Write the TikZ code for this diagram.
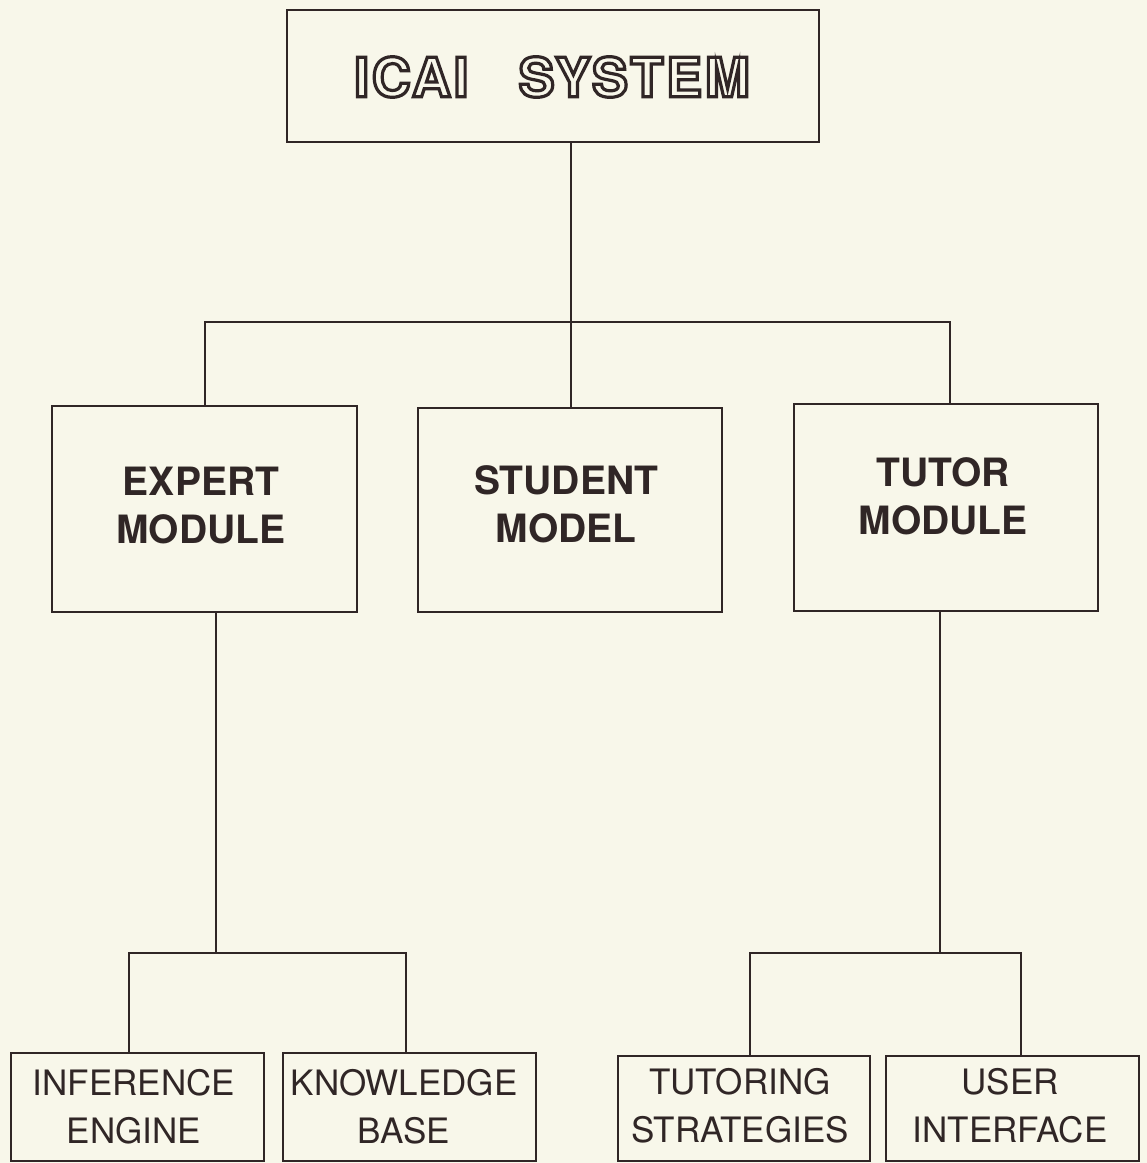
\documentclass[tikz,border=0pt]{standalone}
\usepackage{fontspec}
\setmainfont{TeX Gyre Heros}
\definecolor{paper}{RGB}{248,247,234}
\definecolor{ink}{RGB}{48,38,38}
\newcommand{\hollowtext}[1]{\special{pdf:code q 1 Tr 3.2 w}#1\special{pdf:code Q}}
\tikzset{
  box/.style={draw=ink, line width=2.2pt, rectangle, inner sep=0pt},
  link/.style={draw=ink, line width=2pt},
  bigtxt/.style={text=ink, align=center, font=\bfseries\fontsize{39}{48}\selectfont},
  smalltxt/.style={text=ink, align=center, font=\fontsize{35}{48}\selectfont},
}
\begin{document}
\begin{tikzpicture}[x=1pt,y=-1pt]
\fill[paper] (0,0) rectangle (1147,1163);
\useasboundingbox (0,0) rectangle (1147,1163);
% boxes
\node[box, minimum width=532pt, minimum height=132pt] (title) at (553,76) {};
\node[box, minimum width=305pt, minimum height=206pt] (expert) at (204.5,509) {};
\node[box, minimum width=304pt, minimum height=204pt] (student) at (570,510) {};
\node[box, minimum width=304pt, minimum height=207pt] (tutor) at (946,507.5) {};
\node[box, minimum width=253pt, minimum height=108pt] (inf) at (137.5,1107) {};
\node[box, minimum width=253pt, minimum height=108pt] (know) at (409.5,1107) {};
\node[box, minimum width=252pt, minimum height=105pt] (tut) at (744,1108.5) {};
\node[box, minimum width=253pt, minimum height=105pt] (user) at (1012.5,1108.5) {};
% labels
\node[inner sep=0pt, text=ink] (titletxt) at (552,77) {\fontsize{54}{60}\selectfont\bfseries\addfontfeatures{LetterSpace=5}\hollowtext{ICAI\hspace{50pt}SYSTEM}};
\node[bigtxt] (expertTxt) at (201,506) {EXPERT\\MODULE};
\node[bigtxt] (studentTxt) at (566,504) {STUDENT\\MODEL};
\node[bigtxt] (tutorTxt) at (943,496) {TUTOR\\MODULE};
\node[smalltxt] (infTxt) at (134,1107) {INFERENCE\\ENGINE};
\node[smalltxt] (knowTxt) at (404,1107) {KNOWLEDGE\\BASE};
\node[smalltxt] (tutTxt) at (740,1106) {TUTORING\\STRATEGIES};
\node[smalltxt] (userTxt) at (1010,1106) {USER\\INTERFACE};
% connector coordinates
\coordinate (bL) at (205,322);
\coordinate (bM) at (571,322);
\coordinate (bR) at (950,322);
\coordinate (eJ) at (216,953);
\coordinate (eL) at (129,953);
\coordinate (eR) at (406,953);
\coordinate (tJ) at (940,953);
\coordinate (tL) at (750,953);
\coordinate (tR) at (1021,953);
% connectors
\draw[link] (title.south -| bM) -- (bM |- student.north);
\draw[link] (bL |- expert.north) -- (bL) -- (bR) -- (bR |- tutor.north);
\draw[link] (expert.south -| eJ) -- (eJ);
\draw[link] (eL |- inf.north) -- (eL) -- (eR) -- (eR |- know.north);
\draw[link] (tutor.south -| tJ) -- (tJ);
\draw[link] (tL |- tut.north) -- (tL) -- (tR) -- (tR |- user.north);
\end{tikzpicture}
\end{document}
